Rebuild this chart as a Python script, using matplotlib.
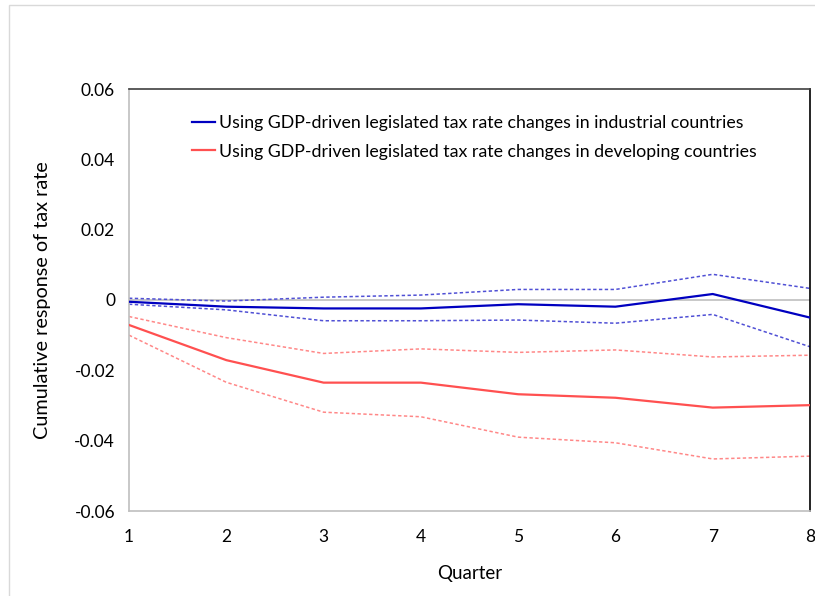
import matplotlib
matplotlib.use("Agg")
import matplotlib.pyplot as plt
from matplotlib.patches import Rectangle

plt.rcParams['font.family'] = ['Lato', 'DejaVu Sans']

# Data
quarters = [1, 2, 3, 4, 5, 6, 7, 8]

ind_mean = [-0.0005, -0.0019, -0.0024, -0.0024, -0.0012, -0.0019, 0.0017, -0.0050]
ind_upper = [0.0005, -0.0003, 0.0008, 0.0014, 0.0030, 0.0030, 0.0073, 0.0033]
ind_lower = [-0.0012, -0.0028, -0.0059, -0.0059, -0.0057, -0.0066, -0.0041, -0.0133]

dev_mean = [-0.0071, -0.0171, -0.0235, -0.0235, -0.0268, -0.0278, -0.0306, -0.0299]
dev_upper = [-0.0047, -0.0107, -0.0152, -0.0139, -0.0149, -0.0142, -0.0162, -0.0157]
dev_lower = [-0.0100, -0.0234, -0.0319, -0.0332, -0.0390, -0.0406, -0.0452, -0.0444]

yticks = [-0.06, -0.04, -0.02, 0, 0.02, 0.04, 0.06]
ytick_labels = ['-0.06', '-0.04', '-0.02', '0', '0.02', '0.04', '0.06']

labels = ['Using GDP-driven legislated tax rate changes in industrial countries',
          'Using GDP-driven legislated tax rate changes in developing countries']

W, H = 815, 596
fig = plt.figure(figsize=(W / 100, H / 100), dpi=100)

# light chart-area border like the Excel export
fig.patches.append(Rectangle((9 / W, -0.1), 1.2, (H - 5) / H + 0.1,
                             transform=fig.transFigure, fill=False,
                             edgecolor='#D9D9D9', linewidth=1))

left, right, top, bottom = 129, 810, 89, 511
ax = fig.add_axes([left / W, (H - bottom) / H, (right - left) / W, (bottom - top) / H])

ax.axhline(0, color='#BFBFBF', linewidth=1.2, zorder=1)

blue = '#0000C0'
blue_light = '#5050D5'
red = '#FF5050'
red_light = '#FF8888'
dash = (0, (2.2, 1.6))

ax.plot(quarters, ind_mean, color=blue, linewidth=1.6, label=labels[0], zorder=3)
ax.plot(quarters, dev_mean, color=red, linewidth=1.6, label=labels[1], zorder=3)
ax.plot(quarters, ind_upper, color=blue_light, linewidth=1.1, linestyle=dash, zorder=2)
ax.plot(quarters, ind_lower, color=blue_light, linewidth=1.1, linestyle=dash, zorder=2)
ax.plot(quarters, dev_upper, color=red_light, linewidth=1.1, linestyle=dash, zorder=2)
ax.plot(quarters, dev_lower, color=red_light, linewidth=1.1, linestyle=dash, zorder=2)

ax.set_xlim(1, 8)
ax.set_ylim(-0.06, 0.06)
ax.set_xticks(quarters)
ax.set_yticks(yticks)
ax.set_yticklabels(ytick_labels)
ax.tick_params(axis='both', length=0, labelsize=12.5, colors='#000000')
ax.tick_params(axis='y', pad=10)
ax.tick_params(axis='x', pad=13)

ax.spines['left'].set_color('#BFBFBF')
ax.spines['bottom'].set_color('#BFBFBF')
ax.spines['top'].set_color('#404040')
ax.spines['right'].set_color('#000000')
for s in ax.spines.values():
    s.set_linewidth(1.2)

ax.set_xlabel('Quarter', fontsize=13.5, labelpad=14)
ax.set_ylabel('Cumulative response of tax rate', fontsize=14.3, labelpad=17)

leg = ax.legend(loc='upper left', bbox_to_anchor=((193 - left) / (right - left) - 0.012, 0.955),
                frameon=False, fontsize=12.8, handlelength=1.3, handletextpad=0.2,
                labelspacing=0.7, borderaxespad=0)

fig.savefig('out.png', dpi=100)
